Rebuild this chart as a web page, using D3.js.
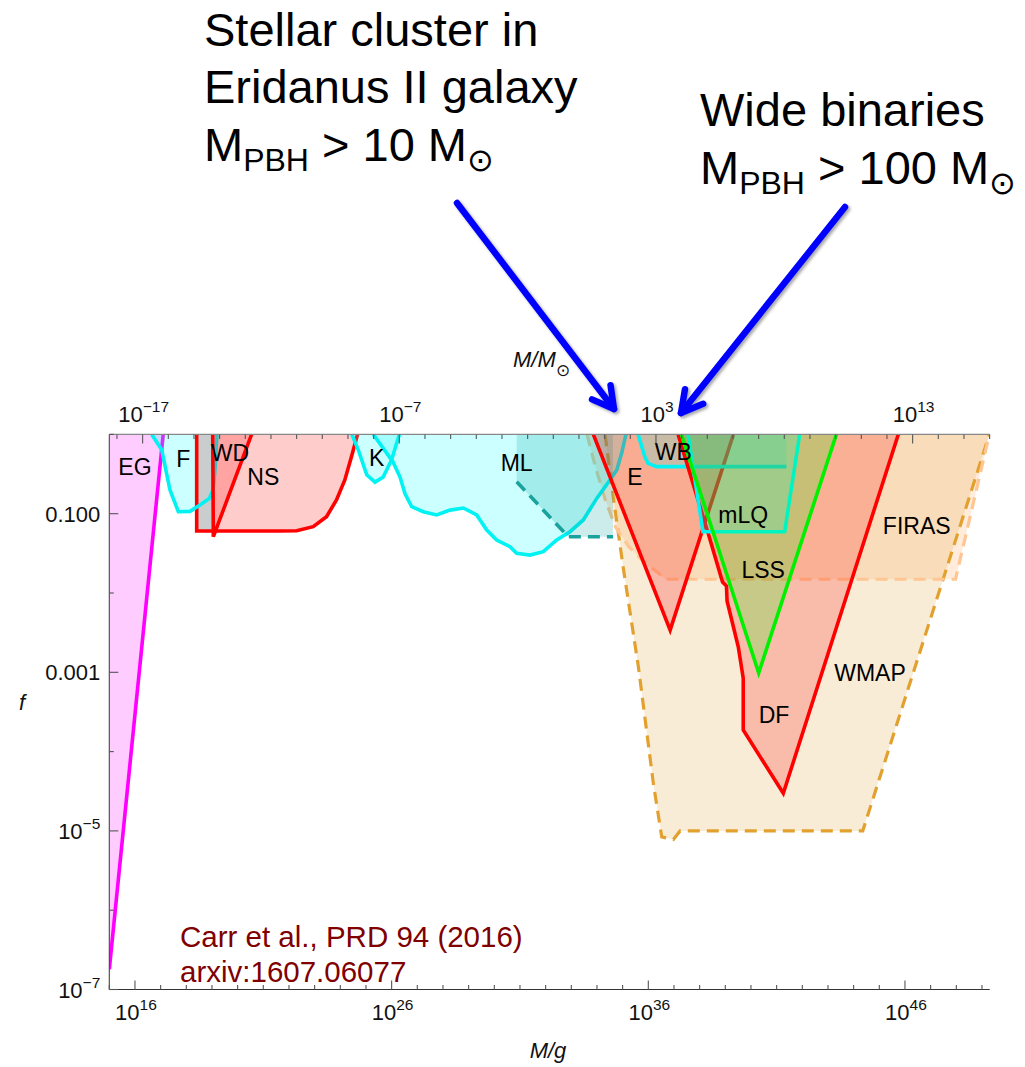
<!DOCTYPE html>
<html>
<head>
<meta charset="utf-8">
<script src="https://cdn.jsdelivr.net/npm/d3@7"></script>
<style>
  body { margin: 0; background: #fff; }
  svg { display: block; font-family: "Liberation Sans", Arial, Helvetica, sans-serif; }
</style>
</head>
<body>
<svg id="chart" width="1025" height="1067"></svg>
<script>
// ---- axis ranges -------------------------------------------------------
const MSUN = 1.989e33;               // grams per solar mass
const massRange = [1e15, 2e49];      // M / g
const fracRange = [1e-7, 1];         // f

const bottomMajor = [1e16, 1e26, 1e36, 1e46];
const topMajorExp = [-17, -7, 3, 13];
const leftMajor = [0.1, 0.001, 1e-5, 1e-7];

// ---- constraint boundaries: [M in grams, f] ----------------------------
// extragalactic gamma rays (evaporation)
const egBound = [[1.0e15, 1.8e-7], [1.26e17, 1]];
// femtolensing
const fBound = [[4.5e16, 1], [1.1e17, 0.64], [2.3e17, 0.2], [4.9e17, 0.106], [1.4e18, 0.107],
                [3.4e18, 0.129], [7.9e18, 0.156], [1.1e19, 0.199], [1.31e19, 0.356], [1.57e19, 1]];
// neutron-star capture
const nsBound = [[2.54e18, 1], [2.54e18, 0.0605], [4.5e21, 0.0605], [2.0e22, 0.061], [8.8e22, 0.0686],
                 [2.9e23, 0.0917], [7.1e23, 0.149], [1.5e24, 0.266], [2.7e24, 0.52], [4.7e24, 1]];
// white-dwarf band
const wdBand = [[2.54e18, 1], [2.54e18, 0.0605], [1.07e19, 0.0605], [1.07e19, 1]];
const wdBound = [[1.07e19, 1], [1.13e19, 0.0513], [3.5e20, 1]];
// Kepler microlensing
const kBound = [[2.8e24, 1], [5.0e24, 0.64], [1.07e25, 0.31], [2.25e25, 0.25], [4.7e25, 0.29],
                [1.0e26, 0.48], [1.58e26, 0.78], [2.0e26, 1]];
// MACHO / EROS microlensing
const mlBound = [[1.93e25, 1], [1.13e26, 0.45], [2.12e26, 0.29], [3.3e26, 0.18], [6.05e26, 0.1225],
                 [1.71e27, 0.106], [5.7e27, 0.0964], [1.88e28, 0.111], [6.2e28, 0.118], [2.06e29, 0.0964],
                 [5.06e29, 0.0622], [1.24e30, 0.0466], [4.08e30, 0.0384], [7.45e30, 0.0317],
                 [2.46e31, 0.0301], [8.1e31, 0.0332], [2.7e32, 0.0466], [8.9e32, 0.0593],
                 [2.93e33, 0.0834], [9.8e33, 0.156], [3.2e34, 0.266], [5.9e34, 0.356],
                 [9.2e34, 0.582], [1.35e35, 1]];
const mlOldBound = [[7.45e30, 0.253], [7.6e32, 0.0513], [4.2e34, 0.0513]];
// Eridanus II
const eBound = [[7.2e33, 1], [7.1e36, 0.00341], [2.07e39, 1]];
// wide binaries
const wbBound = [[4.0e35, 1], [7.3e35, 0.523], [9.8e35, 0.432], [2.1e36, 0.392], [2.4e41, 0.392]];
// dynamical friction
const dfBound = [[1.45e37, 1], [2.13e38, 0.0571], [7.8e38, 0.01377], [1.11e39, 0.01225],
                 [1.17e39, 0.00792], [3.2e39, 0.0021], [5.0e39, 8.4e-4], [5.0e39, 1.87e-4],
                 [1.82e41, 2.98e-5], [5.5e45, 1]];
// millilensing of quasars
const mlqBound = [[3.5e37, 1], [1.35e38, 0.0593], [2.06e41, 0.0593], [7.9e41, 1]];
// large-scale structure
const lssBound = [[1.95e37, 1], [2.0e40, 9.8e-4], [2.12e43, 1]];
// accretion: WMAP and FIRAS
const wmapBound = [[2.06e34, 1], [4.3e34, 0.164], [1.04e35, 0.0215], [4.1e35, 0.00118],
                   [1.57e36, 3.98e-5], [3.34e36, 8.4e-6], [9.5e36, 7.8e-6], [1.73e37, 1e-5],
                   [2.26e44, 1e-5], [1.94e49, 1]];
const firasBound = [[4.1e33, 1], [8.65e33, 0.392], [2.12e34, 0.149], [5.2e34, 0.0686],
                    [1.73e35, 0.0384], [7.7e35, 0.0237], [2.55e36, 0.0177], [4.6e36, 0.0149],
                    [9.3e47, 0.0149], [1.94e49, 1]];

// region names and where they are written
const regionNames = ["EG", "F", "WD", "NS", "K", "ML", "E", "WB", "mLQ", "LSS", "FIRAS", "WMAP", "DF"];
const regionAt = [[1.0e16, 0.308], [7.6e17, 0.385], [5.05e19, 0.462], [1.0e21, 0.23], [2.62e25, 0.4],
                  [7.45e30, 0.345], [3.03e35, 0.23], [9.4e36, 0.475], [5.0e39, 0.077],
                  [3.0e40, 0.0156], [2.87e46, 0.055], [4.35e44, 7.77e-4], [7.9e40, 2.31e-4]];

// ---- layout -------------------------------------------------------------
const plot = { left: 109.3, right: 989.7, top: 434.4, bottom: 989.5 };
const svg = d3.select("#chart");

const x = d3.scaleLog().domain(massRange).range([plot.left, plot.right]);
const xSun = d3.scaleLog().domain(massRange.map(m => m / MSUN)).range([plot.left, plot.right]);
const y = d3.scaleLog().domain(fracRange).range([plot.bottom, plot.top]);

const line = d3.line().x(d => x(d[0])).y(d => y(d[1]));
const area = pts => line(pts) + "Z";

const defs = svg.append("defs");
defs.append("clipPath").attr("id", "plotClip")
  .append("rect")
  .attr("x", plot.left).attr("y", plot.top)
  .attr("width", plot.right - plot.left).attr("height", plot.bottom - plot.top);

const shadow = defs.append("filter").attr("id", "arrowShadow")
  .attr("x", "-20%").attr("y", "-20%").attr("width", "140%").attr("height", "140%");
shadow.append("feDropShadow").attr("dx", 2).attr("dy", 2).attr("stdDeviation", 1.8)
  .attr("flood-color", "#000").attr("flood-opacity", 0.35);

const g = svg.append("g").attr("clip-path", "url(#plotClip)");

function fillRegion(pts, color, opacity) {
  g.append("path").attr("d", area(pts)).attr("fill", color).attr("fill-opacity", opacity).attr("stroke", "none");
}
function strokeLine(pts, color, width, dash) {
  const p = g.append("path").attr("d", line(pts)).attr("fill", "none")
    .attr("stroke", color).attr("stroke-width", width).attr("stroke-linejoin", "miter");
  if (dash) p.attr("stroke-dasharray", dash);
}

const RED = "#ff0000", CYAN = "#00f2f2", GREEN = "#00f000", MAG = "#ff00ff";
const LW = 3.6;

// accretion limits (underneath everything)
fillRegion(wmapBound, "#dc9f32", 0.2);
fillRegion(firasBound, "#ffa95a", 0.22);
strokeLine(wmapBound, "#e2a12e", 3.2, "12,7");
strokeLine(firasBound, "#ffc592", 3.2, "12,7");

// evaporation
fillRegion([...egBound, [massRange[0], 1]], MAG, 0.2);
strokeLine(egBound, MAG, LW);

// femtolensing, neutron stars, white dwarfs
fillRegion(nsBound, RED, 0.2);
fillRegion(fBound, "#00ffff", 0.2);
fillRegion(wdBand, "#c9cdcd", 1);
strokeLine(nsBound, RED, LW);
strokeLine(fBound, CYAN, LW);
fillRegion(wdBound, RED, 0.2);
strokeLine(wdBound, RED, LW);

// microlensing
fillRegion(kBound, "#00ffff", 0.2);
strokeLine(kBound, CYAN, LW);
fillRegion(mlBound, "#00ffff", 0.2);
strokeLine(mlBound, CYAN, LW);
const mlOldFill = [[mlOldBound[0][0], 1], ...mlOldBound, [mlOldBound[mlOldBound.length - 1][0], 1]];
fillRegion(mlOldFill, "#00a2a2", 0.2);
strokeLine(mlOldBound, "#1aa39d", LW, "12,7");

// Eridanus II
fillRegion(eBound, RED, 0.22);
strokeLine(eBound, RED, LW);

// wide binaries
fillRegion([...wbBound, [wbBound[wbBound.length - 1][0], 1]], "#00ffff", 0.2);
strokeLine(wbBound, CYAN, LW);

// dynamical friction
fillRegion(dfBound, RED, 0.2);
strokeLine(dfBound, RED, LW);

// millilensing
fillRegion(mlqBound, "#00ffff", 0.2);
strokeLine(mlqBound, CYAN, LW);

// large-scale structure
fillRegion(lssBound, "#00ff00", 0.2);
strokeLine(lssBound, GREEN, LW);

// region names
g.selectAll("text.region").data(regionNames).enter().append("text")
  .attr("class", "region")
  .attr("x", (d, i) => x(regionAt[i][0]))
  .attr("y", (d, i) => y(regionAt[i][1]))
  .attr("text-anchor", "middle")
  .attr("font-size", 23).attr("fill", "#000")
  .text(d => d);

// ---- axes ---------------------------------------------------------------
const axisColor = "#555";
const axes = svg.append("g").attr("stroke", axisColor).attr("stroke-width", 1.1);

axes.append("line").attr("x1", plot.left).attr("x2", plot.right).attr("y1", plot.bottom).attr("y2", plot.bottom).attr("stroke", "#333");
axes.append("line").attr("x1", plot.left).attr("x2", plot.right).attr("y1", plot.top).attr("y2", plot.top).attr("stroke", "#888");
axes.append("line").attr("x1", plot.left).attr("x2", plot.left).attr("y1", plot.top).attr("y2", plot.bottom).attr("stroke", "#444");

const isMajor = (v, list) => list.some(m => Math.abs(Math.log10(v) - Math.log10(m)) < 1e-6);

// bottom ticks: every decade in grams
const bottomTicks = d3.range(15, 50).map(e => Math.pow(10, e)).filter(v => v >= massRange[0] && v <= massRange[1]);
axes.selectAll("line.bt").data(bottomTicks).enter().append("line")
  .attr("x1", d => x(d)).attr("x2", d => x(d))
  .attr("y1", plot.bottom).attr("y2", d => plot.bottom - (isMajor(d, bottomMajor) ? 9 : 4.5));

// top ticks: every decade in solar masses
const topTicks = d3.range(-18, 17).map(e => Math.pow(10, e)).filter(v => v * MSUN >= massRange[0] && v * MSUN <= massRange[1]);
const topMajor = topMajorExp.map(e => Math.pow(10, e));
axes.selectAll("line.tt").data(topTicks).enter().append("line")
  .attr("x1", d => xSun(d)).attr("x2", d => xSun(d))
  .attr("y1", plot.top).attr("y2", d => plot.top + (isMajor(d, topMajor) ? 9 : 4.5));

// left ticks: every decade in f
const leftTicks = d3.range(-7, 1).map(e => Math.pow(10, e));
axes.selectAll("line.lt").data(leftTicks).enter().append("line")
  .attr("x1", plot.left).attr("x2", d => plot.left + (isMajor(d, leftMajor) ? 9 : 4.5))
  .attr("y1", d => y(d)).attr("y2", d => y(d));

function powerLabel(sel, exp) {
  sel.append("tspan").text("10");
  sel.append("tspan").attr("dy", -10).attr("font-size", 15.5)
    .text(exp < 0 ? "\u2212" + Math.abs(exp) : String(exp));
}

const labels = svg.append("g").attr("font-size", 22).attr("fill", "#111");

bottomMajor.forEach(v => {
  const t = labels.append("text").attr("x", x(v) + 1).attr("y", plot.bottom + 30.5).attr("text-anchor", "middle");
  powerLabel(t, Math.round(Math.log10(v)));
});
topMajorExp.forEach(e => {
  const t = labels.append("text").attr("x", xSun(Math.pow(10, e)) + 1).attr("y", plot.top - 12.5).attr("text-anchor", "middle");
  powerLabel(t, e);
});
leftMajor.forEach(v => {
  const e = Math.round(Math.log10(v));
  const t = labels.append("text").attr("x", plot.left - 9).attr("y", y(v) + 8).attr("text-anchor", "end");
  if (e >= -3) t.text(d3.format(".3f")(v));
  else powerLabel(t, e);
});

// axis titles
labels.append("text").attr("x", 548).attr("y", 1058).attr("text-anchor", "middle")
  .attr("font-style", "italic").text("M/g");
labels.append("text").attr("x", 22).attr("y", 710).attr("text-anchor", "middle")
  .attr("font-style", "italic").text("f");
const sunTitle = labels.append("text").attr("x", 513).attr("y", 367).attr("font-style", "italic");
sunTitle.append("tspan").text("M/M");
sunTitle.append("tspan").attr("dy", 9).attr("font-size", 17).attr("font-style", "normal").text("\u2299");

// citation
const cite = svg.append("g").attr("fill", "#800000").attr("font-size", 29.5);
cite.append("text").attr("x", 180).attr("y", 946.5).text("Carr et al., PRD 94 (2016)");
cite.append("text").attr("x", 180).attr("y", 981.5).text("arxiv:1607.06077");

// ---- annotations -----------------------------------------------------------
const note = svg.append("g").attr("font-size", 47).attr("fill", "#000");
function massLine(xp, yp, value) {
  const t = note.append("text").attr("x", xp).attr("y", yp);
  t.append("tspan").text("M");
  t.append("tspan").attr("font-size", 32).attr("dy", 10).text("PBH");
  t.append("tspan").attr("dy", -10).text(" > " + value + " M");
  t.append("tspan").attr("font-size", 32).attr("dy", 10).text("\u2299");
}
note.append("text").attr("x", 204).attr("y", 46).text("Stellar cluster in");
note.append("text").attr("x", 204).attr("y", 103).text("Eridanus II galaxy");
massLine(204, 161, 10);
note.append("text").attr("x", 700).attr("y", 126).text("Wide binaries");
massLine(700, 184, 100);

// arrows
const arrowPaths = [
  { from: [457, 203], to: [614, 409] },
  { from: [845, 207], to: [681, 413] }
];
const arrowG = svg.append("g").attr("filter", "url(#arrowShadow)")
  .attr("stroke", "#0000ff").attr("stroke-width", 6.5).attr("fill", "none")
  .attr("stroke-linecap", "round").attr("stroke-linejoin", "round");
arrowPaths.forEach(a => {
  const ang = Math.atan2(a.to[1] - a.from[1], a.to[0] - a.from[0]);
  const L = 24, spread = Math.PI / 6.2;
  const p1 = [a.to[0] - L * Math.cos(ang - spread), a.to[1] - L * Math.sin(ang - spread)];
  const p2 = [a.to[0] - L * Math.cos(ang + spread), a.to[1] - L * Math.sin(ang + spread)];
  arrowG.append("path").attr("d", d3.line()([a.from, a.to]));
  arrowG.append("path").attr("d", d3.line()([p1, a.to, p2]));
});
</script>
</body>
</html>
